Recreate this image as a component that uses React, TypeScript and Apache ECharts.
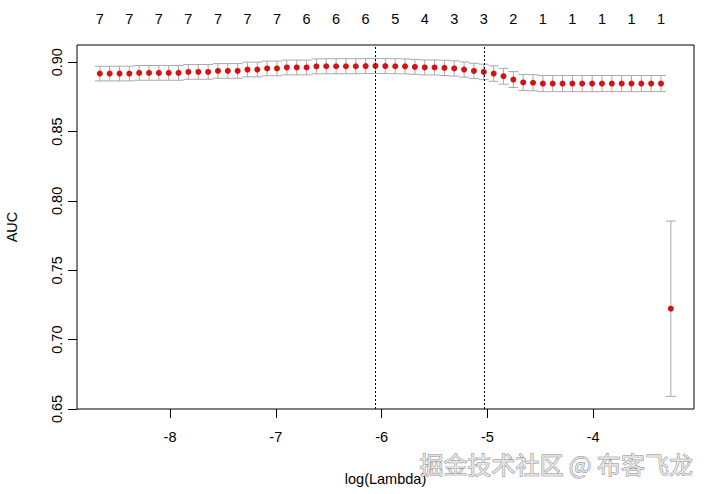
import React, { useEffect, useRef } from "react";
import * as echarts from "echarts";

// log(lambda) for each fitted lambda
const logLambda = [
  -8.664, -8.571, -8.478, -8.385, -8.292, -8.199, -8.106, -8.013, -7.920, -7.827,
  -7.733, -7.640, -7.547, -7.454, -7.361, -7.268, -7.175, -7.082, -6.989, -6.896,
  -6.802, -6.709, -6.616, -6.523, -6.430, -6.337, -6.244, -6.151, -6.058, -5.965,
  -5.871, -5.778, -5.685, -5.592, -5.499, -5.406, -5.313, -5.220, -5.127, -5.034,
  -4.940, -4.847, -4.754, -4.661, -4.568, -4.475, -4.382, -4.289, -4.196, -4.103,
  -4.009, -3.916, -3.823, -3.730, -3.637, -3.544, -3.451, -3.358, -3.265,
];

// mean cross-validated AUC
const auc = [
  0.8918, 0.8918, 0.8918, 0.8918, 0.8923, 0.8923, 0.8923, 0.8923, 0.8923, 0.8930,
  0.8930, 0.8930, 0.8937, 0.8937, 0.8937, 0.8947, 0.8947, 0.8955, 0.8955, 0.8962,
  0.8962, 0.8962, 0.8970, 0.8971, 0.8971, 0.8971, 0.8971, 0.8972, 0.8973, 0.8972,
  0.8971, 0.8970, 0.8966, 0.8962, 0.8962, 0.8959, 0.8955, 0.8947, 0.8937, 0.8930,
  0.8918, 0.8899, 0.8875, 0.8854, 0.8852, 0.8846, 0.8846, 0.8846, 0.8846, 0.8846,
  0.8846, 0.8846, 0.8846, 0.8846, 0.8846, 0.8846, 0.8846, 0.8846, 0.7223,
];

// standard error of AUC
const aucSd = [
  0.0053, 0.0053, 0.0053, 0.0053, 0.0053, 0.0053, 0.0053, 0.0053, 0.0053, 0.0053,
  0.0053, 0.0053, 0.0053, 0.0053, 0.0053, 0.0053, 0.0053, 0.0053, 0.0053, 0.0053,
  0.0053, 0.0053, 0.0054, 0.0054, 0.0054, 0.0054, 0.0054, 0.0054, 0.0054, 0.0054,
  0.0054, 0.0054, 0.0054, 0.0054, 0.0054, 0.0055, 0.0055, 0.0055, 0.0055, 0.0056,
  0.0056, 0.0057, 0.0057, 0.0058, 0.0058, 0.0058, 0.0058, 0.0058, 0.0058, 0.0058,
  0.0058, 0.0058, 0.0058, 0.0058, 0.0058, 0.0058, 0.0058, 0.0058, 0.0632,
];

// number of non-zero coefficients shown on the top axis, and the lambda index each sits at
const nzeroLabels = ["7", "7", "7", "7", "7", "7", "7", "6", "6", "6", "5", "4", "3", "3", "2", "1", "1", "1", "1", "1"];
const nzeroIdx = [0, 3, 6, 9, 12, 15, 18, 21, 24, 27, 30, 33, 36, 39, 42, 45, 48, 51, 54, 57];

const lambdaMinIdx = 28;
const lambda1seIdx = 39;

const xTicks = [-8, -7, -6, -5, -4];
const yTicks = [0.65, 0.7, 0.75, 0.8, 0.85, 0.9];

const FONT = "'Liberation Sans', Arial, sans-serif";

export default function App() {
  const ref = useRef<HTMLDivElement>(null);

  useEffect(() => {
    if (!ref.current) return;
    const chart = echarts.init(ref.current, null, { renderer: "svg" });

    const topPos = nzeroIdx.map((i) => logLambda[i]);
    const errData = logLambda.map((x, i) => [x, auc[i] - aucSd[i], auc[i] + aucSd[i]]);
    const ptData = logLambda.map((x, i) => [x, auc[i]]);
    const grey = "#A9A9A9";

    chart.setOption({
      animation: false,
      backgroundColor: "#fff",
      grid: {
        left: 77,
        right: 15,
        top: 45,
        bottom: 85,
        outerBoundsMode: "none",
        containLabel: false,
        show: true,
        borderColor: "#000",
        borderWidth: 1,
        backgroundColor: "transparent",
      },
      xAxis: [
        {
          type: "value",
          position: "bottom",
          min: -8.88,
          max: -3.046,
          name: "log(Lambda)",
          nameLocation: "middle",
          nameGap: 62,
          nameTextStyle: { fontFamily: FONT, fontSize: 14.5, color: "#000" },
          axisLine: { show: false },
          axisTick: { show: true, customValues: xTicks, length: 9, lineStyle: { color: "#000" } },
          axisLabel: {
            customValues: xTicks,
            margin: 20,
            fontFamily: FONT,
            fontSize: 14.5,
            color: "#000",
            formatter: (v: number) => String(Math.round(v)),
          },
          splitLine: { show: false },
        },
        {
          type: "value",
          position: "top",
          min: -8.88,
          max: -3.046,
          axisLine: { show: false },
          axisTick: { show: false },
          axisLabel: {
            customValues: topPos,
            margin: 19,
            fontFamily: FONT,
            fontSize: 14.5,
            color: "#000",
            formatter: (v: number) => {
              const k = topPos.findIndex((p) => Math.abs(p - v) < 1e-6);
              return k >= 0 ? nzeroLabels[k] : "";
            },
          },
          splitLine: { show: false },
        },
      ],
      yAxis: {
        type: "value",
        min: 0.65,
        max: 0.9124,
        name: "AUC",
        nameLocation: "middle",
        nameGap: 58,
        nameRotate: 90,
        nameTextStyle: { fontFamily: FONT, fontSize: 14.5, color: "#000" },
        axisLine: { show: false },
        axisTick: { show: true, customValues: yTicks, length: 9, lineStyle: { color: "#000" } },
        axisLabel: {
          customValues: yTicks,
          rotate: 90,
          margin: 13,
          fontFamily: FONT,
          fontSize: 14.5,
          color: "#000",
          formatter: (v: number) => v.toFixed(2),
        },
        splitLine: { show: false },
      },
      series: [
        {
          type: "custom",
          xAxisIndex: 0,
          yAxisIndex: 0,
          data: errData,
          encode: { x: 0, y: [1, 2] },
          renderItem: (params: any, api: any) => {
            const x = api.value(0);
            const lo = api.coord([x, api.value(1)]);
            const hi = api.coord([x, api.value(2)]);
            const hw = 5;
            const style = { stroke: grey, lineWidth: 1 };
            return {
              type: "group",
              children: [
                { type: "line", shape: { x1: lo[0], y1: lo[1], x2: hi[0], y2: hi[1] }, style },
                { type: "line", shape: { x1: lo[0] - hw, y1: lo[1], x2: lo[0] + hw, y2: lo[1] }, style },
                { type: "line", shape: { x1: hi[0] - hw, y1: hi[1], x2: hi[0] + hw, y2: hi[1] }, style },
              ],
            };
          },
          z: 1,
        },
        {
          type: "scatter",
          xAxisIndex: 0,
          yAxisIndex: 0,
          data: ptData,
          symbol: "circle",
          symbolSize: 6,
          itemStyle: { color: "#D41414", opacity: 1 },
          z: 3,
          markLine: {
            silent: true,
            symbol: "none",
            label: { show: false },
            lineStyle: { color: "#000", type: [2, 2], width: 1, opacity: 1 },
            data: [{ xAxis: logLambda[lambdaMinIdx] }, { xAxis: logLambda[lambda1seIdx] }],
          },
        },
      ],
      graphic: [
        {
          type: "text",
          left: 419,
          top: 451,
          z: 100,
          style: {
            text: "掘金技术社区 @ 布客飞龙",
            fontFamily: "'Noto Sans CJK SC', sans-serif",
            fontSize: 24,
            fill: "#e3e3e3",
            stroke: "#858585",
            lineWidth: 0.9,
          },
        },
      ],
    });

    return () => chart.dispose();
  }, []);

  return (
    <div
      ref={ref}
      style={{ position: "fixed", left: 0, top: 0, width: 709, height: 494, background: "#fff" }}
    />
  );
}
